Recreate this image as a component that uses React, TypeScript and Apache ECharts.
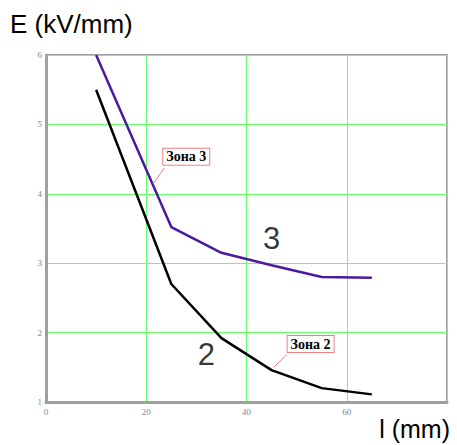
import React, { useEffect, useRef } from "react";
import * as echarts from "echarts";

const lengths = [10, 25, 35, 45, 55, 65];
const zone3 = [6.0, 3.52, 3.15, 2.97, 2.8, 2.79];
const zone2 = [5.5, 2.7, 1.92, 1.46, 1.2, 1.11];
const xTicks = [0, 20, 40, 60];
const yTicks = [1, 2, 3, 4, 5, 6];

const curveLabels = [
  { text: "3", at: [45, 3.36] },
  { text: "2", at: [32, 1.68] },
];
const callouts = [
  { text: "Зона 3", target: [21.4, 4.15], end: [23.6, 4.37], box: [23.4, 4.65] },
  { text: "Зона 2", target: [45.4, 1.5], end: [48.0, 1.68], box: [48.2, 1.95] },
];

export default function App() {
  const ref = useRef<HTMLDivElement>(null);
  useEffect(() => {
    document.body.style.margin = "0";
    const chart = echarts.init(ref.current!, null, { renderer: "svg" });
    const mk = (vals: number[]) => lengths.map((x, i) => [x, vals[i]]);
    const tickFont = {
      fontFamily: "Liberation Serif, serif",
      fontSize: 9,
      color: "#7d8898",
    };
    chart.setOption({
      animation: false,
      backgroundColor: "#ffffff",
      grid: {
        left: 46,
        top: 55,
        right: 10,
        bottom: 43,
        show: true,
        borderColor: "#a0a0a0",
        borderWidth: 2,
      },
      xAxis: {
        type: "value",
        min: 0,
        max: 80,
        interval: 20,
        axisLine: { show: true, lineStyle: { color: "#a0a0a0", width: 3 } },
        axisTick: { show: false },
        splitLine: { show: true, lineStyle: { color: "#66ff66", width: 1 } },
        axisLabel: {
          ...tickFont,
          margin: 5,
          formatter: (v: number) => (xTicks.includes(v) ? String(v) : ""),
        },
      },
      yAxis: {
        type: "value",
        min: 1,
        max: 6,
        interval: 1,
        axisLine: { show: true, lineStyle: { color: "#a0a0a0", width: 3 } },
        axisTick: { show: false },
        splitLine: { show: true, lineStyle: { color: "#66ff66", width: 1 } },
        axisLabel: {
          ...tickFont,
          margin: 4,
          formatter: (v: number) => (yTicks.includes(v) ? String(v) : ""),
        },
      },
      series: [
        {
          type: "line",
          data: mk(zone3),
          symbol: "none",
          lineStyle: { color: "#4a1aa0", width: 2.5 },
          z: 3,
        },
        {
          type: "line",
          data: mk(zone2),
          symbol: "none",
          lineStyle: { color: "#000000", width: 2.5 },
          z: 3,
        },
        {
          type: "scatter",
          data: curveLabels.map((c) => ({ value: c.at, name: c.text })),
          symbolSize: 0,
          label: {
            show: true,
            position: "inside",
            formatter: (p: any) => p.name,
            fontFamily: "Liberation Sans, Arial, sans-serif",
            fontSize: 31,
            color: "#000",
          },
          z: 4,
        },
      ],
    });

    const graphics: any[] = [
      {
        type: "text",
        left: 10,
        top: 11,
        style: {
          text: "E (kV/mm)",
          font: "26px 'Liberation Sans', Arial, sans-serif",
          fill: "#000",
        },
      },
      {
        type: "text",
        right: 7,
        top: 416,
        style: {
          text: "l (mm)",
          font: "25px 'Liberation Sans', Arial, sans-serif",
          fill: "#000",
        },
      },
    ];
    callouts.forEach((c) => {
      const t = chart.convertToPixel({ gridIndex: 0 }, c.target) as number[];
      const e = chart.convertToPixel({ gridIndex: 0 }, c.end) as number[];
      const b = chart.convertToPixel({ gridIndex: 0 }, c.box) as number[];
      graphics.push({
        type: "line",
        shape: { x1: t[0], y1: t[1], x2: e[0], y2: e[1] },
        style: { stroke: "#f08080", lineWidth: 1 },
        z: 10,
      });
      graphics.push({
        type: "text",
        x: b[0],
        y: b[1],
        z: 11,
        style: {
          text: c.text,
          font: "bold 14px 'Liberation Serif', 'Times New Roman', serif",
          fill: "#000",
          verticalAlign: "top",
          backgroundColor: "#fff",
          borderColor: "#f08080",
          borderWidth: 1,
          padding: [1, 3, 1, 3],
        },
      });
    });
    chart.setOption({ graphic: graphics });
    return () => chart.dispose();
  }, []);
  return <div ref={ref} style={{ width: 457, height: 445 }} />;
}
